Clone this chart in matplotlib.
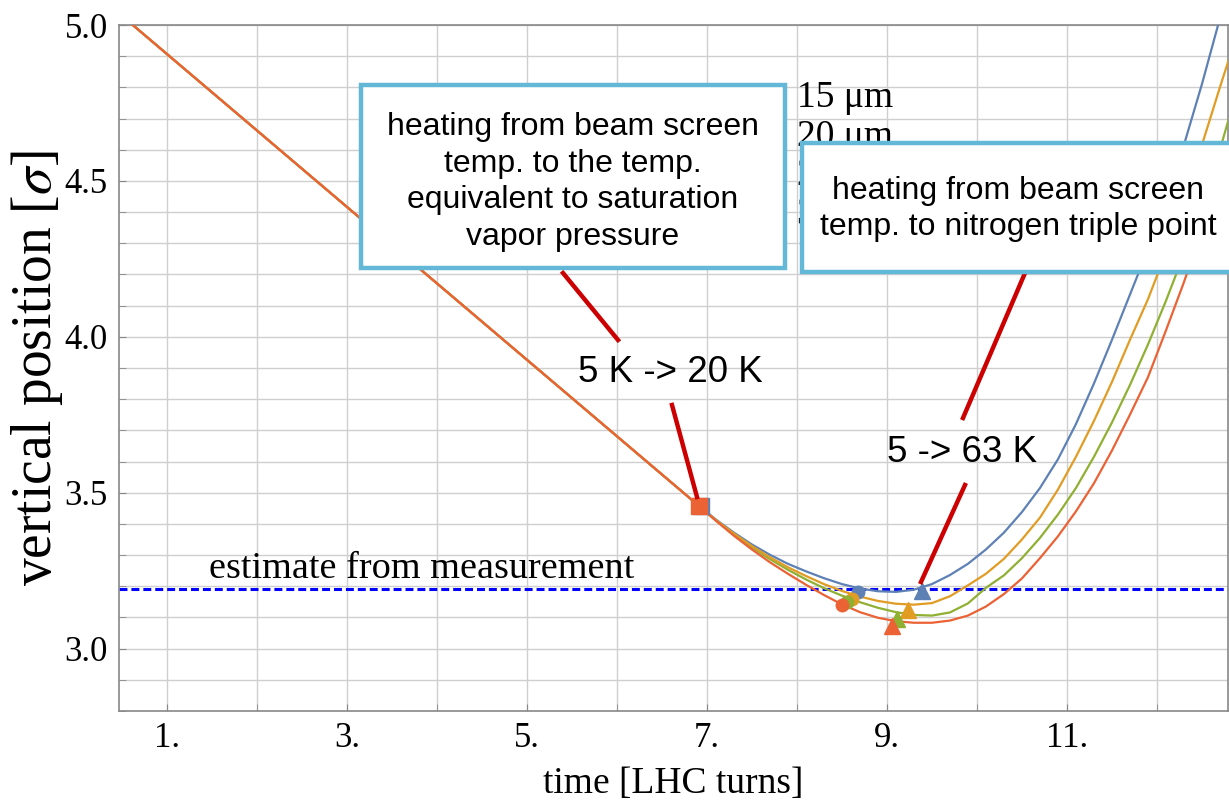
import matplotlib
matplotlib.use("Agg")
import matplotlib.pyplot as plt
from matplotlib.patches import Rectangle
from matplotlib.lines import Line2D
from matplotlib.ticker import MultipleLocator, FixedLocator, FixedFormatter

plt.rcParams['font.family'] = ['Liberation Serif', 'DejaVu Serif']
plt.rcParams['mathtext.fontset'] = 'stix'

# straight common part, all curves start here
x_start = 0.62
y_start = 5.0

# curves (time in LHC turns, vertical position in sigma)
x_15 = [6.91, 7.1, 7.3, 7.5, 7.7, 7.9, 8.1, 8.3, 8.5, 8.7, 8.9, 9.1, 9.3, 9.5, 9.7, 9.9, 10.1, 10.3, 10.5,
        10.7, 10.9, 11.1, 11.3, 11.5, 11.7, 11.9, 12.1, 12.3, 12.5, 12.68]
y_15 = [3.458, 3.414, 3.372, 3.334, 3.301, 3.272, 3.248, 3.226, 3.207, 3.193, 3.184, 3.182, 3.189, 3.207,
        3.236, 3.272, 3.318, 3.372, 3.438, 3.515, 3.607, 3.72, 3.85, 3.99, 4.135, 4.28, 4.43, 4.615, 4.81, 5.0]

x_20 = [6.91, 7.1, 7.3, 7.5, 7.7, 7.9, 8.1, 8.3, 8.5, 8.7, 8.9, 9.1, 9.3, 9.5, 9.7, 9.9, 10.1, 10.3, 10.5,
        10.7, 10.9, 11.1, 11.3, 11.5, 11.7, 11.9, 12.1, 12.3, 12.5, 12.7, 12.8]
y_20 = [3.458, 3.412, 3.369, 3.329, 3.293, 3.261, 3.233, 3.207, 3.185, 3.167, 3.153, 3.144, 3.141, 3.146,
        3.168, 3.203, 3.24, 3.288, 3.35, 3.42, 3.51, 3.615, 3.73, 3.855, 3.99, 4.12, 4.27, 4.44, 4.615, 4.80, 4.89]

x_25 = [6.91, 7.1, 7.3, 7.5, 7.7, 7.9, 8.1, 8.3, 8.5, 8.7, 8.9, 9.1, 9.3, 9.5, 9.7, 9.9, 10.1, 10.3, 10.5,
        10.7, 10.9, 11.1, 11.3, 11.5, 11.7, 11.9, 12.1, 12.3, 12.5, 12.7, 12.8]
y_25 = [3.458, 3.411, 3.366, 3.325, 3.287, 3.253, 3.222, 3.194, 3.170, 3.149, 3.131, 3.117, 3.108, 3.106,
        3.116, 3.145, 3.195, 3.235, 3.29, 3.355, 3.43, 3.515, 3.615, 3.725, 3.845, 3.975, 4.115, 4.265, 4.425, 4.6, 4.70]

x_30 = [6.91, 7.1, 7.3, 7.5, 7.7, 7.9, 8.1, 8.3, 8.5, 8.7, 8.9, 9.1, 9.3, 9.5, 9.7, 9.9, 10.1, 10.3, 10.5,
        10.7, 10.9, 11.1, 11.3, 11.5, 11.7, 11.9, 12.1, 12.3, 12.5, 12.7, 12.8]
y_30 = [3.458, 3.410, 3.362, 3.318, 3.277, 3.240, 3.205, 3.172, 3.142, 3.117, 3.099, 3.088, 3.083, 3.083,
        3.090, 3.106, 3.135, 3.175, 3.225, 3.29, 3.36, 3.44, 3.53, 3.635, 3.75, 3.87, 4.02, 4.175, 4.34, 4.51, 4.6]

labels = ['15 μm', '20 μm', '25 μm', '30 μm']
colors = ['#5E81B5', '#E19C24', '#8FB032', '#EB6235']

# markers: 5 K -> 20 K (circles) and 5 -> 63 K (triangles)
circ_x = [8.68, 8.61, 8.56, 8.50]
circ_y = [3.183, 3.160, 3.150, 3.140]
tri_x = [9.39, 9.23, 9.11, 9.06]
tri_y = [3.185, 3.125, 3.096, 3.074]
sq_x = [6.935, 6.91]
sq_y = [3.458, 3.458]
sq_col = ['#5E81B5', '#EB6235']

estimate = 3.19

W, H = 1229, 801
def px(x, y):
    return x / W, 1 - y / H

fig = plt.figure(figsize=(12.29, 8.01), dpi=100)
ax = fig.add_axes([119 / W, 1 - 711 / H, (1228 - 119) / W, (711 - 25) / H])

xs = [x_15, x_20, x_25, x_30]
ys = [y_15, y_20, y_25, y_30]
for i in [0, 2, 1, 3]:
    ax.plot([x_start] + xs[i], [y_start] + ys[i], color=colors[i], lw=1.6, zorder=3)

for i in range(4):
    ax.plot(circ_x[i], circ_y[i], 'o', color=colors[i], ms=9, zorder=4)
for i in range(4):
    ax.plot(tri_x[i], tri_y[i], '^', color=colors[i], ms=11, zorder=4)
for i in range(2):
    ax.plot(sq_x[i], sq_y[i], 's', color=sq_col[i], ms=12, zorder=4)

dl = ax.axhline(estimate, color='#0000ff', lw=2.2, zorder=2)
dl.set_dashes([2.6, 1.3])
ax.text(1.47, estimate + 0.012, 'estimate from measurement', fontsize=27.5, va='bottom', ha='left')

ax.set_xlim(0.467, 12.79)
ax.set_ylim(2.8, 5.0)
ax.xaxis.set_major_locator(FixedLocator([1, 3, 5, 7, 9, 11]))
ax.xaxis.set_major_formatter(FixedFormatter(['1.', '3.', '5.', '7.', '9.', '11.']))
ax.xaxis.set_minor_locator(MultipleLocator(1))
ax.yaxis.set_major_locator(MultipleLocator(0.5))
ax.yaxis.set_major_formatter(plt.FormatStrFormatter('%.1f'))
ax.yaxis.set_minor_locator(MultipleLocator(0.1))
ax.grid(True, which='both', color='#cfcfcf', lw=1.0, zorder=0)
ax.set_axisbelow(True)
ax.tick_params(which='both', direction='in', length=5, color='#888888', labelsize=25, pad=8)
for s in ax.spines.values():
    s.set_color('#888888')
    s.set_linewidth(1.2)

ax.set_xlabel('time [LHC turns]', fontsize=27, labelpad=8)
ax.set_ylabel('vertical position [$\\sigma$]', fontsize=40, labelpad=0)

# legend (mostly hidden behind the boxes)
for i in range(4):
    fig.text(*px(797, 98 + 39 * i), labels[i], fontsize=27, va='center', ha='left', zorder=5)

# text boxes
box_col = '#62B8D6'
fig.patches.append(Rectangle(px(361, 268), (785 - 361) / W, (268 - 85) / H, transform=fig.transFigure,
                             facecolor='white', edgecolor=box_col, lw=3.2, zorder=10))
fig.patches.append(Rectangle(px(802, 272), (1260 - 802) / W, (272 - 143) / H, transform=fig.transFigure,
                             facecolor='white', edgecolor=box_col, lw=3.2, zorder=10))
fig.text(*px(573, 182), 'heating from beam screen\ntemp. to the temp.\nequivalent to saturation\nvapor pressure',
         fontsize=23, family='Liberation Sans', ha='center', va='center', linespacing=1.28, zorder=11)
fig.text(*px(1018, 209), 'heating from beam screen\ntemp. to nitrogen triple point',
         fontsize=23, family='Liberation Sans', ha='center', va='center', linespacing=1.28, zorder=11)

# red pointer lines and labels
red = '#CC0000'
for (x0, y0, x1, y1) in [(563, 273, 618, 340), (672, 405, 697, 497), (1025, 273, 963, 418), (965, 485, 921, 582)]:
    fig.lines.append(Line2D([x0 / W, x1 / W], [1 - y0 / H, 1 - y1 / H], transform=fig.transFigure,
                            color=red, lw=3.2, zorder=9))
fig.text(*px(670, 373), '5 K -> 20 K', fontsize=26.5, family='Liberation Sans', ha='center', va='center', zorder=11)
fig.text(*px(962, 452), '5 -> 63 K', fontsize=26.5, family='Liberation Sans', ha='center', va='center', zorder=11)

fig.savefig('out.png', dpi=100)
